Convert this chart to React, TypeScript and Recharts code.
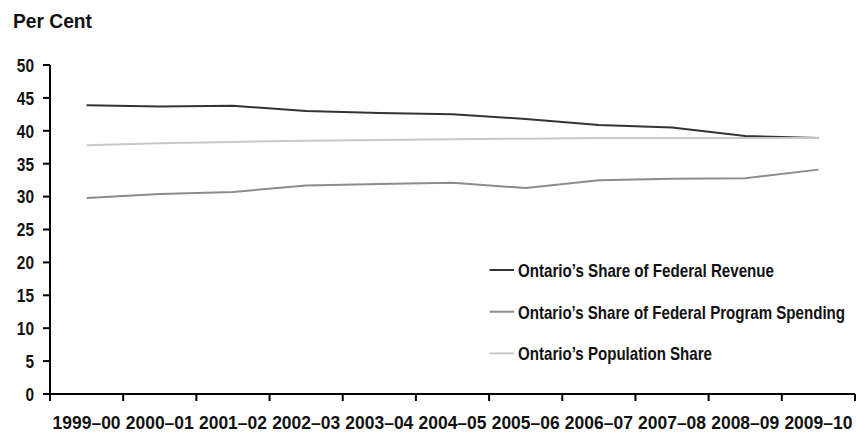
import { Line, LineChart, XAxis, YAxis } from "recharts"

const years = [
  "1999–00",
  "2000–01",
  "2001–02",
  "2002–03",
  "2003–04",
  "2004–05",
  "2005–06",
  "2006–07",
  "2007–08",
  "2008–09",
  "2009–10",
]
const revenue = [43.9, 43.7, 43.8, 43.0, 42.7, 42.5, 41.8, 40.9, 40.5, 39.2, 38.9]
const spending = [29.8, 30.4, 30.7, 31.7, 31.9, 32.1, 31.3, 32.5, 32.7, 32.8, 34.1]
const population = [37.8, 38.1, 38.3, 38.5, 38.6, 38.7, 38.8, 38.9, 38.9, 38.9, 38.9]
const yTicks = [0, 5, 10, 15, 20, 25, 30, 35, 40, 45, 50]

const series = [
  { key: "revenue", name: "Ontario’s Share of Federal Revenue", color: "#333333", textWidth: 256 },
  { key: "spending", name: "Ontario’s Share of Federal Program Spending", color: "#8c8c8c", textWidth: 327 },
  { key: "population", name: "Ontario’s Population Share", color: "#c8c8c8", textWidth: 194 },
]

const data = years.map((year, i) => ({
  year,
  revenue: revenue[i],
  spending: spending[i],
  population: population[i],
}))

const font = "'Liberation Sans', Arial, sans-serif"
const ink = "#111"
const labelGap = 22

// year label at the band centre, tick mark on the band edge(s)
function YearTick({ x, y, payload, width, index, visibleTicksCount }: any) {
  const half = width / visibleTicksCount / 2
  const axisY = y - labelGap
  const edges = index === visibleTicksCount - 1 ? [x - half, x + half] : [x - half]
  return (
    <g>
      {edges.map((ex) => (
        <line key={ex} x1={ex} x2={ex} y1={axisY} y2={axisY + 7} stroke="#000" strokeWidth={2} />
      ))}
      <text x={x} y={y} dy="0.71em" textAnchor="middle" fill={ink} fontSize={18} fontWeight={700}
        fontFamily={font} textLength={68} lengthAdjust="spacingAndGlyphs">
        {payload.value}
      </text>
    </g>
  )
}

function ValueTick({ x, y, payload }: any) {
  const label = String(payload.value)
  return (
    <text x={x} y={y} dy="0.36em" textAnchor="end" fill={ink} fontSize={19} fontWeight={700}
      fontFamily={font} textLength={label.length * 8.6} lengthAdjust="spacingAndGlyphs">
      {label}
    </text>
  )
}

function LegendBox() {
  return (
    <svg width={380} height={130} style={{ position: "absolute", left: 476, top: 246 }}>
      {series.map((s, i) => (
        <g key={s.key} transform={`translate(0, ${24 + i * 41.7})`}>
          <line x1={13.5} x2={38} y1={0} y2={0} stroke={s.color} strokeWidth={2} />
          <text x={42} y={0} dy="0.36em" fill={ink} fontSize={19} fontWeight={700} fontFamily={font}
            textLength={s.textWidth} lengthAdjust="spacingAndGlyphs">
            {s.name}
          </text>
        </g>
      ))}
    </svg>
  )
}

export default function App() {
  return (
    <div style={{ position: "absolute", left: 0, top: 0, width: 856, height: 437, background: "#fff" }}>
      <svg width={120} height={40} style={{ position: "absolute", left: 0, top: 0 }}>
        <text x={13} y={28} fill={ink} fontSize={20} fontWeight={700} fontFamily={font}
          textLength={79} lengthAdjust="spacingAndGlyphs">
          Per Cent
        </text>
      </svg>
      <LineChart width={856} height={437} data={data} margin={{ top: 65, right: 1, bottom: 0, left: 0 }}>
        <XAxis
          dataKey="year"
          scale="band"
          height={43}
          stroke="#000"
          strokeWidth={2}
          tickLine={false}
          interval={0}
          tickSize={0}
          tickMargin={labelGap}
          tick={<YearTick />}
        />
        <YAxis
          domain={[0, 50]}
          ticks={yTicks}
          width={50}
          interval={0}
          stroke="#000"
          strokeWidth={2}
          tickSize={7}
          tickMargin={9}
          tick={<ValueTick />}
        />
        {series.map((s) => (
          <Line
            key={s.key}
            dataKey={s.key}
            name={s.name}
            stroke={s.color}
            strokeWidth={2}
            dot={false}
            type="linear"
            isAnimationActive={false}
          />
        ))}
      </LineChart>
      <LegendBox />
    </div>
  )
}
